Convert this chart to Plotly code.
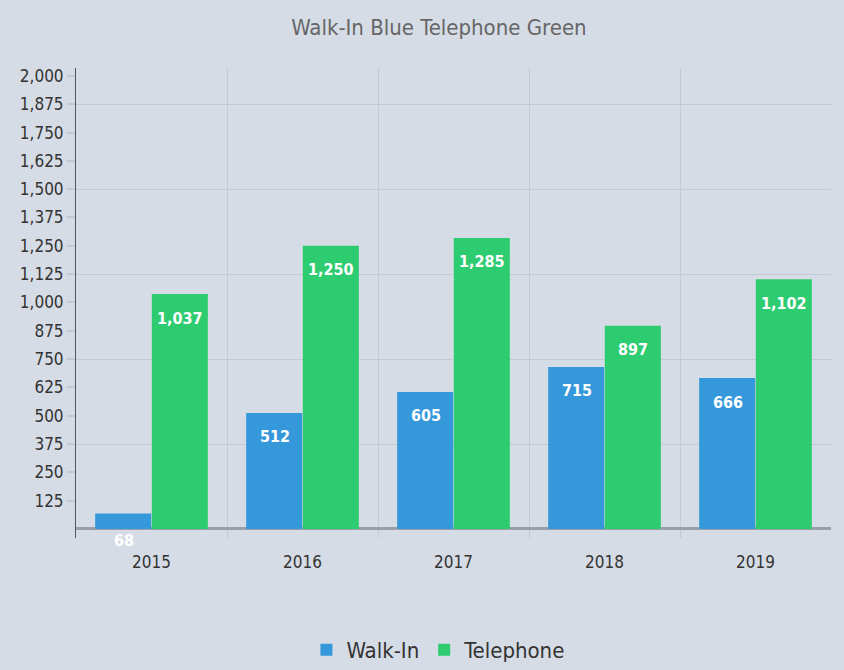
import plotly.graph_objects as go

years = ["2015", "2016", "2017", "2018", "2019"]
walk_in = [68, 512, 605, 715, 666]
telephone = [1037, 1250, 1285, 897, 1102]
ytick_vals = list(range(125, 2001, 125))
ytick_text = [f"{v:,}" for v in ytick_vals]

BLUE = "#3498db"
GREEN = "#2ecc71"
BG = "#d6dce5"
FONT = "DejaVu Sans Condensed"

fig = go.Figure()
fig.add_trace(go.Bar(name="Walk-In", x=years, y=walk_in, marker=dict(color=BLUE, line=dict(width=0))))
fig.add_trace(go.Bar(name="Telephone", x=years, y=telephone, marker=dict(color=GREEN, line=dict(width=0))))

# gridlines every 375 via an overlaid axis
fig.add_trace(go.Scatter(x=years, y=[None]*len(years), yaxis="y2", showlegend=False, hoverinfo="skip"))

annotations = []
for series, shift in ((walk_in, -28), (telephone, 28)):
    for i, v in enumerate(series):
        if v < 150:
            yy, ys = 0, -12
        else:
            yy, ys = v, -24
        annotations.append(dict(x=i, y=yy, xshift=shift, yshift=ys, text=f"{v:,}", showarrow=False,
                                font=dict(color="white", size=16, family=FONT, weight="bold"),
                                xref="x", yref="y"))

yrange = [-40, 2035]
fig.update_layout(
    width=844, height=670,
    paper_bgcolor=BG, plot_bgcolor=BG,
    margin=dict(l=76, r=13, t=68, b=132),
    title=dict(text="Walk-In Blue Telephone Green", x=0.52, xanchor="center", y=0.96, yanchor="middle",
               font=dict(family=FONT, size=22, color="#666666")),
    barmode="group", bargap=0.25, bargroupgap=0.01,
    font=dict(family=FONT, color="#333333"),
    xaxis=dict(type="category", tickson="boundaries", showgrid=True, gridcolor="#c4c9d1", gridwidth=1,
               ticks="", tickfont=dict(size=17, color="#333333"), showline=False, zeroline=False,
               ticklabelstandoff=12, range=[-0.5, 4.5]),
    yaxis=dict(range=yrange, tickvals=ytick_vals, ticktext=ytick_text, showgrid=False,
               ticks="outside", ticklen=8, tickcolor="#c4c9d1", tickwidth=2,
               tickfont=dict(size=17, color="#333333"),
               showline=True, linecolor="#555555", linewidth=1,
               zeroline=True, zerolinecolor="#9a9ea6", zerolinewidth=3),
    yaxis2=dict(range=yrange, overlaying="y", dtick=375, tick0=0, showticklabels=False, showgrid=True,
                gridcolor="#c4c9d1", gridwidth=1, zeroline=False, showline=False),
    legend=dict(orientation="h", x=0.48, xanchor="center", y=0.03, yanchor="middle", yref="container",
                font=dict(size=22, color="#333333", family=FONT), traceorder="normal"),
    annotations=annotations,
    hovermode=False,
)
fig.write_html("out.html", config={"displayModeBar": False},
               post_script="document.body.style.margin='0';document.body.style.background='%s';" % BG)
